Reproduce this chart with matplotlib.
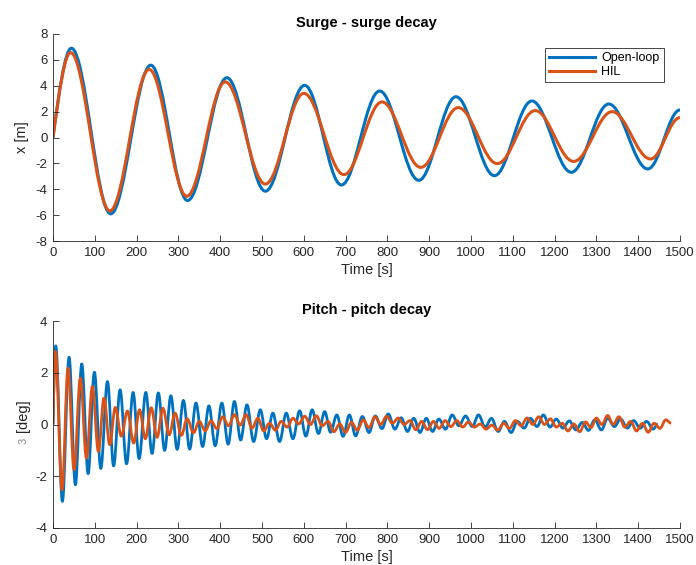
import numpy as np
import matplotlib
matplotlib.use("Agg")
import matplotlib.pyplot as plt
from matplotlib.path import Path
from matplotlib.patches import PathPatch
from matplotlib.lines import Line2D

plt.rcParams['font.family'] = ['Liberation Sans', 'DejaVu Sans']
plt.rcParams['axes.unicode_minus'] = False

BLUE = '#0072BD'
ORANGE = '#D95319'
AXC = '#262626'

# ---------------- Surge decay: x [m] at start, each extremum, and end ----------------
surge_ol_t = [0, 44, 138, 234, 322, 416, 508, 602, 690, 781.5, 875, 964, 1056, 1145.6,
              1240, 1329.6, 1423, 1500]
surge_ol_x = [0, 6.9, -5.9, 5.59, -4.87, 4.62, -4.15, 4.03, -3.67, 3.59, -3.31, 3.15,
              -2.95, 2.82, -2.69, 2.59, -2.43, 2.13]

surge_hil_t = [0, 42, 136, 230, 320, 412, 508, 600, 696, 787, 880, 969.5, 1063, 1153.6,
               1245.6, 1337.7, 1429.6, 1500]
surge_hil_x = [0, 6.56, -5.67, 5.26, -4.54, 4.3, -3.6, 3.41, -2.87, 2.75, -2.31, 2.31,
               -2.02, 2.08, -1.85, 2.0, -1.66, 1.54]

# ---------------- Pitch decay: peaks / troughs [deg] ----------------
pitch_ol_peak_t = [6.5, 38.4, 68.8, 99, 130.3, 160.5, 191.7, 222, 252, 282,
                   312, 342, 373, 404, 434, 464, 496, 526, 558, 590,
                   620, 650, 679, 709, 740, 771, 802, 833, 863, 893,
                   923, 955, 987, 1018, 1049, 1080, 1111, 1142, 1173, 1204,
                   1235, 1266, 1296, 1327, 1358, 1389, 1420]
pitch_ol_peak_v = [3.04, 2.60, 2.34, 2.02, 1.66, 1.34, 1.24, 1.24, 1.22, 1.11,
                   0.93, 0.83, 0.72, 0.83, 0.89, 0.76, 0.57, 0.44, 0.44, 0.53,
                   0.57, 0.50, 0.37, 0.37, 0.31, 0.33, 0.41, 0.26, 0.24, 0.24,
                   0.21, 0.37, 0.33, 0.37, 0.24, 0.12, 0.12, 0.24, 0.37, 0.21,
                   0.14, 0.08, 0.18, 0.24, 0.21, 0.15, 0.12]
pitch_ol_trough_t = [22.5, 53.6, 84, 114.3, 145, 176, 206, 237, 267, 297,
                     327, 358, 388, 419, 449, 480, 511, 542, 574, 605,
                     635, 664, 694, 724, 756, 787, 818, 848, 878, 908,
                     939, 971, 1003, 1034, 1065, 1096, 1127, 1158, 1189, 1220,
                     1251, 1281, 1312, 1343, 1374, 1405, 1436]
pitch_ol_trough_v = [-2.97, -2.33, -1.90, -1.70, -1.60, -1.52, -1.32, -1.12, -1.00, -0.96,
                     -0.95, -0.85, -0.82, -0.76, -0.60, -0.66, -0.55, -0.66, -0.55, -0.45,
                     -0.35, -0.30, -0.46, -0.44, -0.31, -0.16, -0.18, -0.27, -0.31, -0.27,
                     -0.18, -0.05, -0.08, -0.10, -0.27, -0.31, -0.14, -0.08, -0.10, -0.14,
                     -0.21, -0.23, -0.21, -0.08, -0.14, -0.14, -0.18]
pitch_ol_start = (0, 0.0)
pitch_ol_end = (1447, 0.02)

pitch_hil_peak_t = [5.7, 36, 65.5, 94.2, 122, 149, 178, 207, 235, 263,
                    292, 321, 350, 378, 406, 434, 462, 490, 518, 546,
                    574, 602, 630, 658, 686, 714, 742, 770, 798, 826,
                    854, 882, 910, 938, 966, 994, 1022, 1050, 1078, 1106,
                    1134, 1162, 1190, 1218, 1246, 1274, 1300, 1327, 1354, 1382,
                    1410, 1438, 1466]
pitch_hil_peak_v = [2.82, 2.18, 1.79, 1.47, 1.02, 0.66, 0.52, 0.57, 0.65, 0.63,
                    0.44, 0.22, 0.12, 0.14, 0.30, 0.38, 0.38, 0.24, 0.05, 0.12,
                    0.24, 0.32, 0.34, 0.12, 0.02, 0.08, 0.18, 0.30, 0.32, 0.25,
                    0.15, 0.12, 0.12, 0.15, 0.15, 0.10, 0.02, -0.02, 0.05, 0.15,
                    0.25, 0.30, 0.22, 0.05, 0.02, 0.10, 0.25, 0.35, 0.30, 0.12,
                    0.05, 0.05, 0.18]
pitch_hil_trough_t = [21.6, 50.3, 80, 108.6, 135.7, 163.5, 193, 221, 249, 278,
                      307, 336, 364, 392, 420, 448, 476, 504, 532, 560,
                      588, 616, 644, 672, 700, 728, 756, 784, 812, 840,
                      868, 896, 924, 952, 980, 1008, 1036, 1064, 1092, 1120,
                      1148, 1176, 1204, 1232, 1260, 1287, 1313, 1340, 1368, 1396,
                      1424, 1452]
pitch_hil_trough_v = [-2.52, -1.75, -1.30, -1.04, -0.78, -0.45, -0.72, -0.55, -0.50, -0.40,
                      -0.42, -0.32, -0.24, -0.16, -0.05, -0.02, -0.14, -0.25, -0.22, -0.10,
                      0.02, 0.00, -0.05, -0.28, -0.30, -0.22, -0.12, 0.00, 0.05, 0.00,
                      -0.20, -0.20, -0.15, -0.08, -0.10, -0.10, -0.18, -0.22, -0.15, -0.05,
                      0.00, 0.00, -0.10, -0.25, -0.28, -0.12, 0.00, 0.00, -0.10, -0.25,
                      -0.30, -0.15]
pitch_hil_start = (0, 0.0)
pitch_hil_end = (1479, 0.05)

x_ticks = list(range(0, 1501, 100))
surge_yticks = [-8, -6, -4, -2, 0, 2, 4, 6, 8]
pitch_yticks = [-4, -2, 0, 2, 4]


def merge_extrema(start, peak_t, peak_v, trough_t, trough_v, end):
    pts = sorted(list(zip(peak_t, peak_v)) + list(zip(trough_t, trough_v)))
    pts = [start] + pts + [end]
    t, v = zip(*pts)
    return list(t), list(v)


def oscillation_path(t, v):
    """Smooth Bezier path through successive extrema of an oscillation.

    The first segment leaves a zero crossing (quarter sine); all others join
    two turning points with a half-cosine shaped cubic.
    """
    a = 1.0 - 2.0 / np.pi
    verts = [(t[0], v[0])]
    codes = [Path.MOVETO]
    for i in range(1, len(t)):
        t0, y0, t1, y1 = t[i - 1], v[i - 1], t[i], v[i]
        dt = t1 - t0
        if i == 1:
            c1 = (t0 + dt / 3.0, y0 + (y1 - y0) * np.pi / 6.0)
            c2 = (t1 - dt / 3.0, y1)
        else:
            c1 = (t0 + a * dt, y0)
            c2 = (t1 - a * dt, y1)
        verts += [c1, c2, (t1, y1)]
        codes += [Path.CURVE4] * 3
    return Path(verts, codes)


def draw_series(ax, t, v, color, lw=2.2):
    patch = PathPatch(oscillation_path(t, v), fill=False, edgecolor=color,
                      linewidth=lw, capstyle='butt', joinstyle='round')
    ax.add_patch(patch)


def style_axes(ax, yticks):
    for s in ('top', 'right'):
        ax.spines[s].set_visible(False)
    for s in ('left', 'bottom'):
        ax.spines[s].set_color(AXC)
        ax.spines[s].set_linewidth(0.6)
    ax.tick_params(direction='in', length=4, width=0.6, color=AXC,
                   labelcolor=AXC, labelsize=9.5)
    ax.tick_params(axis='x', pad=4.5)
    ax.tick_params(axis='y', pad=4)
    ax.set_xlim(0, 1500)
    ax.set_xticks(x_ticks)
    ax.set_yticks(yticks)
    ax.set_ylim(yticks[0], yticks[-1])
    ax.set_xlabel('Time [s]', fontsize=10.5, color=AXC, labelpad=2.5)


fig = plt.figure(figsize=(6.96, 5.65), dpi=100)
W, H = 696.0, 565.0
ax1 = fig.add_axes([53 / W, 1 - 241 / H, 627 / W, 207 / H])
ax2 = fig.add_axes([53 / W, 1 - 528 / H, 627 / W, 207 / H])

# Surge
draw_series(ax1, surge_ol_t, surge_ol_x, BLUE)
draw_series(ax1, surge_hil_t, surge_hil_x, ORANGE)
style_axes(ax1, surge_yticks)
ax1.set_title('Surge - surge decay', fontsize=10.5, fontweight='bold', pad=5)
fig.text(22 / W, 1 - 137.5 / H, 'x [m]', rotation=90, ha='center', va='center',
         fontsize=10.5, color=AXC)

handles = [Line2D([], [], color=BLUE, lw=2.2), Line2D([], [], color=ORANGE, lw=2.2)]
leg = ax1.legend(handles, ['Open-loop', 'HIL'], loc='upper right',
                 bbox_to_anchor=((664 - 53) / 627, (241 - 48) / 207),
                 borderaxespad=0, fancybox=False, framealpha=1, fontsize=9,
                 handlelength=3.7, handletextpad=0.5, borderpad=0.35,
                 labelspacing=0.12)
leg.get_frame().set_edgecolor(AXC)
leg.get_frame().set_linewidth(0.6)

# Pitch
t, v = merge_extrema(pitch_ol_start, pitch_ol_peak_t, pitch_ol_peak_v,
                     pitch_ol_trough_t, pitch_ol_trough_v, pitch_ol_end)
draw_series(ax2, t, v, BLUE, lw=2.0)
t, v = merge_extrema(pitch_hil_start, pitch_hil_peak_t, pitch_hil_peak_v,
                     pitch_hil_trough_t, pitch_hil_trough_v, pitch_hil_end)
draw_series(ax2, t, v, ORANGE, lw=2.0)
style_axes(ax2, pitch_yticks)
ax2.set_title('Pitch - pitch decay', fontsize=10.5, fontweight='bold', pad=5)
fig.text(23 / W, 1 - 416 / H, '[deg]', rotation=90, ha='center', va='center',
         fontsize=10.5, color=AXC)
fig.text(23.5 / W, 1 - 441 / H, '3', rotation=90, ha='center', va='center',
         fontsize=8, color='#8a8a8a')

fig.savefig('out.png', dpi=100)
